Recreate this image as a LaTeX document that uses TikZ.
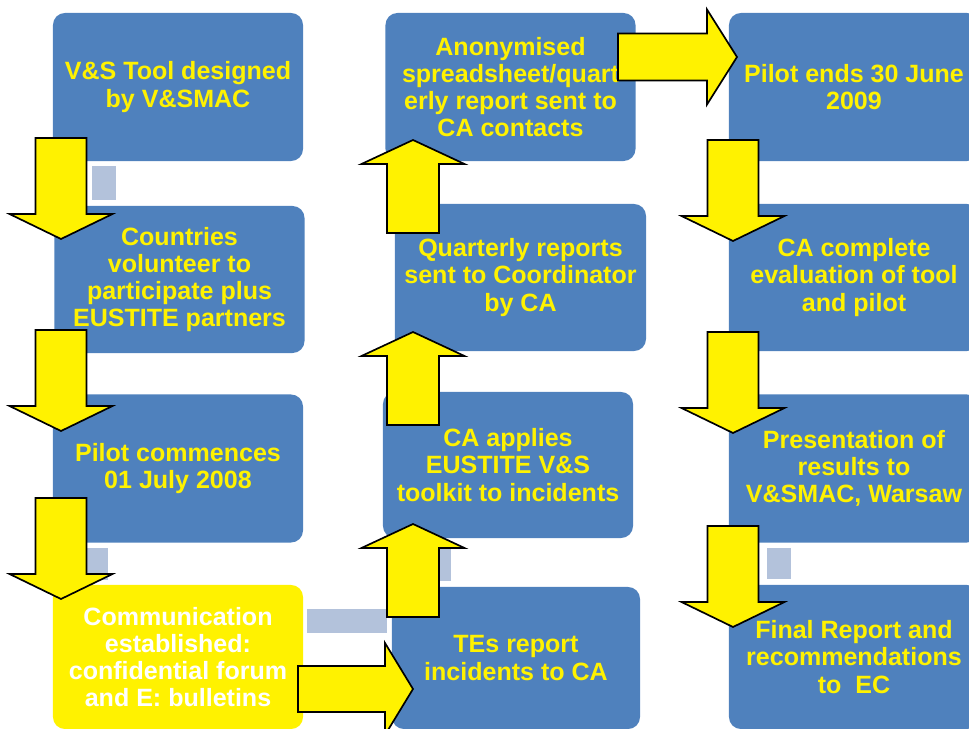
\documentclass[tikz,border=0pt]{standalone}
\usepackage{fontspec}
\setmainfont{Liberation Sans}
\usetikzlibrary{positioning}
\definecolor{boxblue}{HTML}{4F81BD}
\definecolor{linkgrey}{HTML}{B3C2DB}

\begin{document}
\begin{tikzpicture}[x=0.025cm,y=-0.025cm,
		box/.style={rectangle,rounded corners=0.3cm,fill=boxblue,text=yellow,align=center,
			minimum width=6.25cm,minimum height=3.7cm,inner sep=0pt,
			font=\bfseries\fontsize{17.8}{19.4}\selectfont},
		hibox/.style={box,fill=yellow,text=white},
		link/.style={fill=linkgrey},
		blockarrow/.style={draw=black,fill=yellow,line width=1.2pt,line join=miter}]
		\useasboundingbox (0,0) rectangle (969,729);
		
		% first column
		\node[box] (tool) at (178,87) {V\&S Tool designed\\by V\&SMAC};
		\node[box,minimum height=3.675cm] (volunteer) at (179.5,279.5) {Countries\\volunteer to\\participate plus\\EUSTITE partners};
		\node[box] (commence) at (178,468.5) {Pilot commences\\01 July 2008};
		\node[hibox,minimum height=3.6cm] (comms) at (178,657) {Communication\\established:\\confidential forum\\and E: bulletins};
		
		% second column
		\node[box,minimum width=6.2cm,minimum height=3.55cm] (report) at (516,658) {TEs report\\incidents to CA};
		\node[box,minimum height=3.65cm] (toolkit) at (508,465) {CA applies\\EUSTITE V\&S\\toolkit to incidents};
		\node[box,minimum width=6.275cm,minimum height=3.675cm] (quarterly) at (520.5,277.5) {Quarterly reports\\sent to Coordinator\\by CA};
		\node[box] (anonym) at (510.5,87) {Anonymised\\spreadsheet/quart\\erly report sent to\\CA contacts};
		
		% third column
		\node[box] (pilotend) at (854,87) {Pilot ends 30 June\\2009};
		\node[box,minimum height=3.675cm] (evaluation) at (854,277.5) {CA complete\\evaluation of tool\\and pilot};
		\node[box] (presentation) at (854,468.5) {Presentation of\\results to\\V\&SMAC, Warsaw};
		\node[box,minimum height=3.6cm] (final) at (854,657) {Final Report and\\recommendations\\to\ \ EC};
		
		% grey links
		\fill[link] ([shift={(39,5)}]tool.south west) rectangle ([shift={(61.5,-6)}]volunteer.north west);
		\fill[link] ([shift={(31,5)}]commence.south west) rectangle ([shift={(55,-5)}]comms.north west);
		\fill[link] ([shift={(4,-48)}]comms.east) rectangle ([shift={(-5,-25)}]report.west);
		\fill[link] ([shift={(-81,10)}]toolkit.south) rectangle ([shift={(-65,-6)}]report.north);
		\fill[link] ([shift={(38,5)}]presentation.south west) rectangle ([shift={(62,-6)}]final.north west);
		
		% down arrows
		\foreach \x/\y in {61/239,61/431,61/599,733/241,733/433,733/627}
			\draw[blockarrow] (\x-25.5,\y-101) -- (\x+25.5,\y-101) -- (\x+25.5,\y-25) -- (\x+51.5,\y-25)
				-- (\x,\y) -- (\x-51.5,\y-25) -- (\x-25.5,\y-25) -- cycle;
		
		% up arrows
		\foreach \y in {524,332,140}
			\draw[blockarrow] (413,\y) -- (464.5,\y+24) -- (439,\y+24) -- (439,\y+93)
				-- (387,\y+93) -- (387,\y+24) -- (361.5,\y+24) -- cycle;
		
		% right arrows
		\foreach \x/\y/\l/\h/\s/\w in {413/689/115/28/23/46,737/57/119/30/23.5/47.5}
			\draw[blockarrow] (\x-\l,\y-\s) -- (\x-\h,\y-\s) -- (\x-\h,\y-\w) -- (\x,\y)
				-- (\x-\h,\y+\w) -- (\x-\h,\y+\s) -- (\x-\l,\y+\s) -- cycle;
\end{tikzpicture}
\end{document}
